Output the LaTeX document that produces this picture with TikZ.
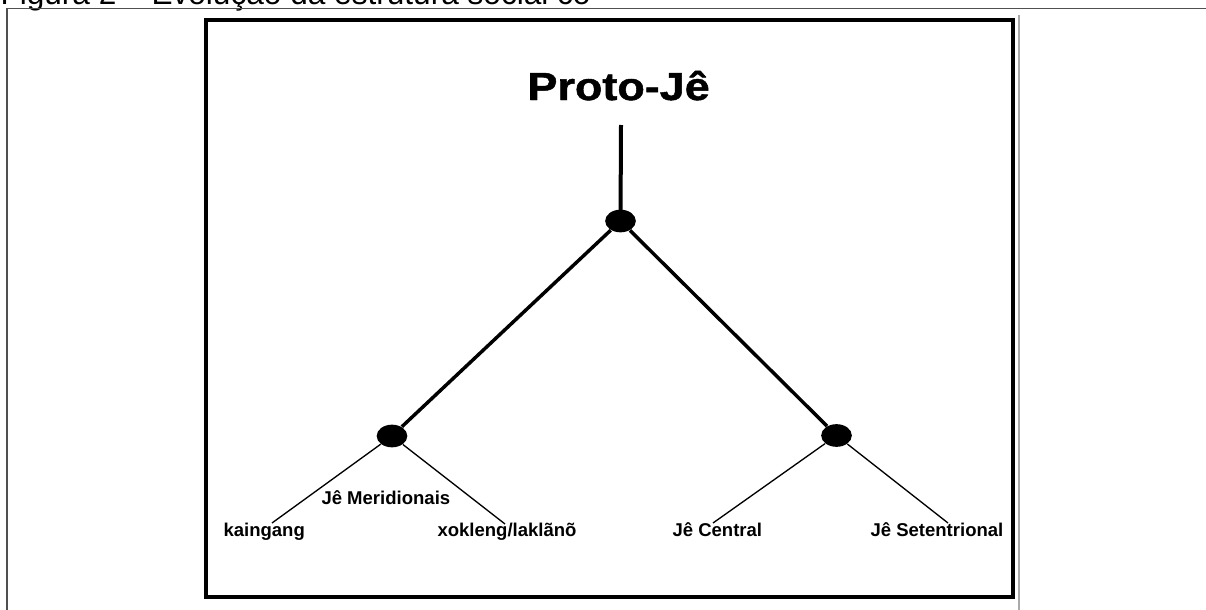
\documentclass[tikz,border=0pt]{standalone}
\usepackage{fontspec}
\setmainfont{Liberation Sans}
\newfontfamily\heavyfont{Liberation Sans Bold}[FakeBold=1.2]
\usetikzlibrary{shapes.geometric}

\tikzset{every picture/.style={line width=0.75pt}}
\tikzset{
  junct/.style={ellipse, fill=black, draw=none, inner sep=0pt, minimum width=23pt, minimum height=17pt},
  lbl/.style={anchor=base west, inner sep=0pt, font=\fontsize{13.9}{16}\selectfont\bfseries},
  trunk/.style={line width=2.6pt},
  twig/.style={line width=1pt},
}

\begin{document}
\begin{tikzpicture}[x=0.75pt,y=0.75pt,yscale=-1,xscale=1]
        \useasboundingbox (0,0) rectangle (1206,610);

        % Text Node (caption, cut at the top)
        \draw (0,5) node [anchor=base west][inner sep=0pt]  (caption) {\fontsize{23.7}{26}\selectfont Figura 2 -- Evolução da estrutura social co};

        %Straight Lines (outer frame)
        \draw [color={rgb, 255:red, 80; green, 80; blue, 80 }][line width=1.1pt] (7,610) -- (7,8.5) -- (1206,8.5) ;
        \draw [color={rgb, 255:red, 170; green, 170; blue, 170 }][line width=1.4pt] (1019,15) -- (1019,610) ;
        %Shape: Rectangle (inner frame)
        \draw [line width=3pt] (206,20.5) rectangle (1012.5,597) ;

        % Text Node
        \draw (527,100) node [anchor=base west][inner sep=0pt]  (proto) {\fontsize{29.3}{32}\heavyfont\scalebox{1.15}[1]{Proto-Jê}};

        %Shape: Ellipse
        \node [junct] (root) at (620.5,221) {};
        \node [junct] (meri) at (392,436) {};
        \node [junct] (north) at (836.5,435.5) {};

        %Free ends
        \coordinate (stem) at (621,125);
        \coordinate (kend) at (272,523);
        \coordinate (xend) at (505,524);
        \coordinate (cend) at (713,523);
        \coordinate (send) at (948,523);

        %Straight Lines
        \draw [line width=3pt] (stem) -- (root.center) ;
        \draw [trunk] (root) -- (meri) ;
        \draw [trunk] (root) -- (north) ;
        \draw [twig] (meri) -- (kend) ;
        \draw [twig] (meri) -- (xend) ;
        \draw [twig] (north) -- (cend) ;
        \draw [twig] (north) -- (send) ;

        % Text Node
        \draw (223,536) node [lbl]  (kaingang) {kaingang};
        % Text Node
        \draw (321,504) node [lbl]  (meridionais) {Jê Meridionais};
        % Text Node
        \draw (437,536) node [lbl]  (xokleng) {xokleng/laklãnõ};
        % Text Node
        \draw (672,536) node [lbl]  (central) {Jê Central};
        % Text Node
        \draw (870,536) node [lbl]  (setentrional) {Jê Setentrional};

\end{tikzpicture}
\end{document}
